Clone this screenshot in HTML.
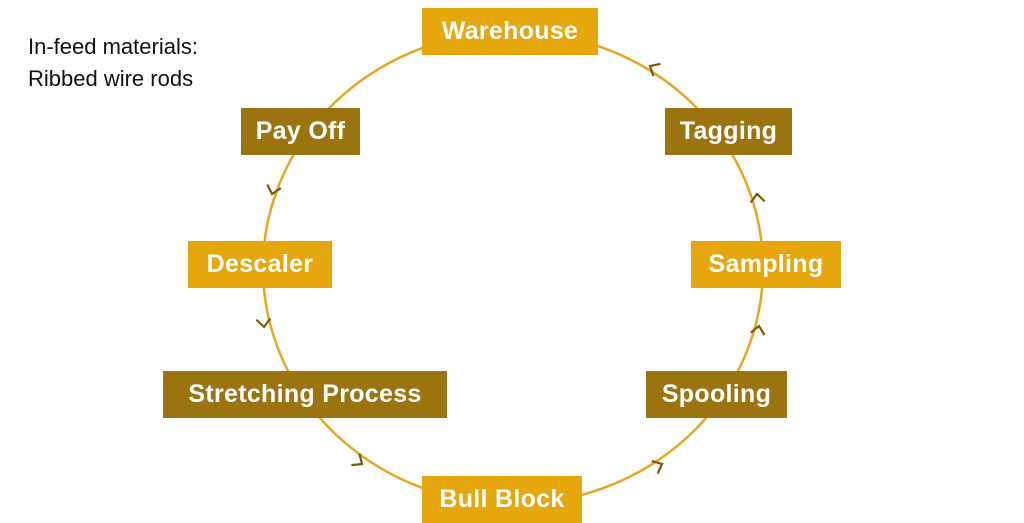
<!DOCTYPE html>
<html><head><meta charset="utf-8"><style>
body{margin:0;width:1024px;height:512px;overflow:hidden;background:#fff;font-family:"Liberation Sans",sans-serif}
.b{position:absolute;color:#fff;font-size:25px;font-weight:bold;display:flex;align-items:center;justify-content:center;height:47px;letter-spacing:0.3px}
.l{background:#E5A70B}.d{background:#9B7410}
.t{position:absolute;left:28px;font-size:22px;color:#111}
</style></head><body>
<svg width="1024" height="512" style="position:absolute;left:0;top:0">
<ellipse cx="513" cy="268" rx="250" ry="236" fill="none" stroke="#E8A620" stroke-width="2.5"/>
<g fill="none" stroke="#7a5a0a" stroke-width="2.2">
<path d="M-8,-7 L0,0 L-8,7" transform="translate(272,194) rotate(105)"/>
<path d="M-8,-7 L0,0 L-8,7" transform="translate(264,327) rotate(85)"/>
<path d="M-8,-7 L0,0 L-8,7" transform="translate(362,464) rotate(35)"/>
<path d="M-8,-7 L0,0 L-8,7" transform="translate(662,464) rotate(-25)"/>
<path d="M-8,-7 L0,0 L-8,7" transform="translate(759,326) rotate(-80)"/>
<path d="M-8,-7 L0,0 L-8,7" transform="translate(757,194) rotate(-95)"/>
<path d="M-8,-7 L0,0 L-8,7" transform="translate(650,66) rotate(-150)"/>
</g></svg>
<div class="t" style="top:34px">In-feed materials:</div>
<div class="t" style="top:66px">Ribbed wire rods</div>
<div class="b l" style="left:422px;top:8px;width:176px">Warehouse</div>
<div class="b d" style="left:241px;top:108px;width:119px">Pay Off</div>
<div class="b l" style="left:188px;top:241px;width:144px">Descaler</div>
<div class="b d" style="left:163px;top:371px;width:284px">Stretching Process</div>
<div class="b l" style="left:422px;top:476px;width:160px">Bull Block</div>
<div class="b d" style="left:646px;top:371px;width:141px">Spooling</div>
<div class="b l" style="left:691px;top:241px;width:150px">Sampling</div>
<div class="b d" style="left:665px;top:108px;width:127px">Tagging</div>
</body></html>
